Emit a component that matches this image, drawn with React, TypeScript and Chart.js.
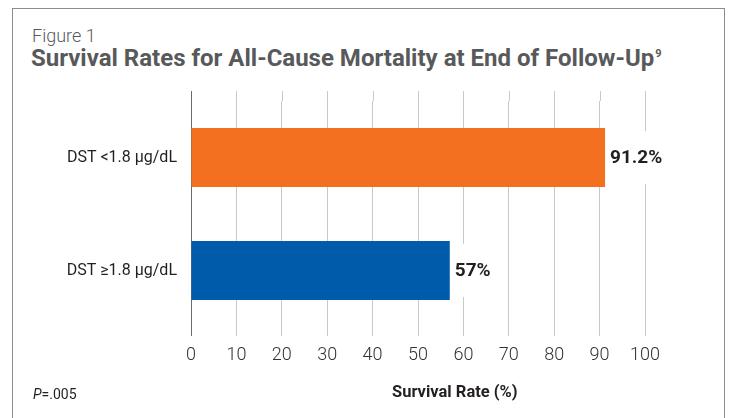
import React, { useEffect, useRef } from "react";
import { Chart, registerables } from "chart.js";

Chart.register(...registerables);

const categories = ["DST <1.8 μg/dL", "DST ≥1.8 μg/dL"];
const survivalRates = [91.2, 57];
const barColors = ["#F37021", "#005BAA"];
const xTickMin = 0;
const xTickMax = 100;
const xTickStep = 10;

const FONT = "Roboto, 'Liberation Sans', Arial, sans-serif";

const gridColor = (v: number) => (v === 0 ? "#6b6b6b" : "#c9c9c9");

const gridExtendPlugin = {
  id: "gridExtend",
  beforeDatasetsDraw(chart: any) {
    const { ctx, chartArea, scales } = chart;
    const xs = scales.x;
    ctx.save();
    xs.ticks.forEach((t: any) => {
      const px = Math.round(xs.getPixelForValue(t.value)) + 0.5;
      ctx.strokeStyle = gridColor(t.value);
      ctx.lineWidth = 1;
      ctx.beginPath();
      ctx.moveTo(px, chartArea.top - 10);
      ctx.lineTo(px, chartArea.top);
      ctx.stroke();
    });
    ctx.restore();
  },
};

const valueLabelPlugin = {
  id: "valueLabels",
  afterDatasetsDraw(chart: any) {
    const { ctx } = chart;
    const meta = chart.getDatasetMeta(0);
    const data = chart.data.datasets[0].data as number[];
    ctx.save();
    ctx.font = `bold 19px ${FONT}`;
    ctx.textBaseline = "middle";
    ctx.textAlign = "left";
    meta.data.forEach((bar: any, i: number) => {
      const text = `${data[i]}%`;
      const w = ctx.measureText(text).width;
      const h = bar.height;
      ctx.fillStyle = "#ffffff";
      ctx.fillRect(bar.x + 1, bar.y - h / 2 + 3, w + 9, h - 6);
      ctx.fillStyle = "#231f20";
      ctx.fillText(text, bar.x + 5, bar.y + 1);
    });
    ctx.restore();
  },
};

export default function App() {
  const ref = useRef<HTMLCanvasElement>(null);

  useEffect(() => {
    if (!ref.current) return;
    const chart = new Chart(ref.current, {
      type: "bar",
      data: {
        labels: categories,
        datasets: [
          {
            data: survivalRates,
            backgroundColor: barColors,
            borderWidth: 0,
            categoryPercentage: 1,
            barPercentage: 0.52,
          },
        ],
      },
      options: {
        indexAxis: "y",
        animation: false,
        responsive: false,
        maintainAspectRatio: false,
        layout: { padding: { left: 0, right: 84, top: 101, bottom: 0 } },
        plugins: {
          legend: { display: false },
          tooltip: { enabled: false },
          title: { display: false },
        },
        scales: {
          x: {
            type: "linear",
            min: xTickMin,
            max: xTickMax,
            afterFit: (s: any) => {
              s.height = 91;
            },
            ticks: {
              stepSize: xTickStep,
              padding: 9,
              color: "#333333",
              font: { family: FONT, size: 18, weight: "300" as any },
            },
            grid: {
              display: true,
              drawTicks: true,
              tickLength: 9,
              color: (c: any) => gridColor(c.tick.value),
              tickColor: (c: any) => gridColor(c.tick.value),
              lineWidth: 1,
            },
            border: { display: false },
          },
          y: {
            afterFit: (s: any) => {
              s.width = 191;
            },
            ticks: {
              padding: 14,
              color: "#231f20",
              font: { family: FONT, size: 16 },
            },
            grid: { display: false, drawTicks: false },
            border: { display: false },
          },
        },
      },
      plugins: [gridExtendPlugin, valueLabelPlugin],
    });
    return () => chart.destroy();
  }, []);

  return (
    <div
      style={{
        position: "absolute",
        left: 0,
        top: 0,
        width: 729,
        height: 418,
        background: "#ffffff",
        overflow: "hidden",
        fontFamily: FONT,
      }}
    >
      <div
        style={{
          position: "absolute",
          left: 12,
          top: 8,
          width: 711,
          height: 430,
          border: "1px solid #8c8c8c",
          borderBottom: "none",
        }}
      />
      <div
        style={{
          position: "absolute",
          left: 32,
          top: 27,
          fontSize: 18,
          lineHeight: "18px",
          fontWeight: 300,
          color: "#58595b",
          whiteSpace: "nowrap",
        }}
      >
        Figure 1
      </div>
      <div
        style={{
          position: "absolute",
          left: 31,
          top: 46,
          fontSize: 24,
          lineHeight: "24px",
          fontWeight: 700,
          color: "#58595b",
          whiteSpace: "nowrap",
        }}
      >
        Survival Rates for All-Cause Mortality at End of Follow-Up
        <span
          style={{
            fontSize: 11,
            lineHeight: "11px",
            verticalAlign: "baseline",
            position: "relative",
            top: -9,
            marginLeft: 1,
          }}
        >
          9
        </span>
      </div>
      <canvas
        ref={ref}
        width={729}
        height={418}
        style={{ position: "absolute", left: 0, top: 0, width: 729, height: 418 }}
      />
      <div
        style={{
          position: "absolute",
          left: 392,
          top: 384,
          fontSize: 16.5,
          lineHeight: "16px",
          fontWeight: 700,
          color: "#231f20",
          whiteSpace: "nowrap",
        }}
      >
        Survival Rate (%)
      </div>
      <div
        style={{
          position: "absolute",
          left: 33,
          top: 387,
          fontSize: 14,
          lineHeight: "14px",
          color: "#231f20",
          whiteSpace: "nowrap",
        }}
      >
        <i>P</i>=.005
      </div>
    </div>
  );
}
